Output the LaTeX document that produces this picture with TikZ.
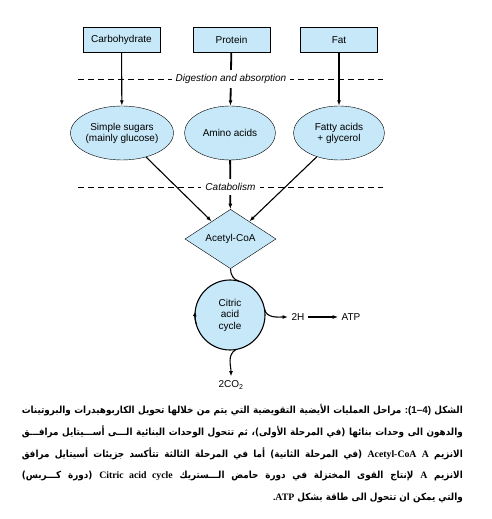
\documentclass[tikz,border=0pt]{standalone}
\usepackage{fontspec}
\setmainfont{Liberation Sans}
\newfontfamily\arabicfont[Script=Arabic,FakeStretch=0.9]{DejaVu Sans}
\newfontfamily\latinbold{Liberation Serif}
\TeXXeTstate=1
\usetikzlibrary{shapes.geometric,arrows.meta,positioning}
\definecolor{nodeblue}{RGB}{198,232,248}
\newcommand{\lat}[1]{\beginL{\latinbold\bfseries #1}\endL{}}
\newcommand{\figno}{\beginL{\rmfamily\bfseries :\kern0pt(\kern0pt1–4\kern0pt)}\endL{}}
\newlength\capmax
\newlength\capw

% caption lines
\newcommand{\capone}{\beginR الشكل \figno{} مراحل العمليات الأيضية التقويضية التي يتم من خلالها تحويل الكاربوهيدرات والبروتينات\endR}
\newcommand{\captwo}{\beginR والدهون الى وحدات بنائها (في المرحلة الأولى)، ثم تتحول الوحدات البنائية الـــى أســـيتايل مرافـــق\endR}
\newcommand{\capthree}{\beginR الانزيم \lat{A} \lat{Acetyl-CoA} (في المرحلة الثانية) أما في المرحلة الثالثة تتأكسد جزيئات أسيتايل مرافق\endR}
\newcommand{\capfour}{\beginR الانزيم \lat{A} لإنتاج القوى المختزلة في دورة حامض الـــستريك \lat{Citric acid cycle} (دورة كـــربس)\endR}
\newcommand{\capfive}{\beginR والتي يمكن ان تتحول الى طاقة بشكل \lat{.ATP}\endR}
\newcommand{\capbase}{\arabicfont\bfseries\fontsize{10}{12}\selectfont}

\begin{document}
% widest caption line sets the caption size
\setbox0=\hbox{\capbase\capone}\setlength{\capmax}{\wd0}
\setbox0=\hbox{\capbase\captwo}\setlength{\capw}{\wd0}
\ifdim\capw>\capmax \setlength{\capmax}{\capw}\fi
\setbox0=\hbox{\capbase\capthree}\setlength{\capw}{\wd0}
\ifdim\capw>\capmax \setlength{\capmax}{\capw}\fi
\setbox0=\hbox{\capbase\capfour}\setlength{\capw}{\wd0}
\ifdim\capw>\capmax \setlength{\capmax}{\capw}\fi
\ifdim\capmax<100pt \setlength{\capmax}{600pt}\fi
\pgfmathsetmacro\capsize{4370/\capmax}
\begin{tikzpicture}[
  x=1pt, y=1pt,
  every node/.style={font=\fontsize{10}{12}\selectfont},
  foodbox/.style={draw, fill=nodeblue, minimum width=77pt, minimum height=25pt, inner sep=0pt},
  unit/.style={ellipse, draw, fill=nodeblue, minimum width=91pt, minimum height=54pt, inner sep=0pt, align=center, font=\fontsize{10}{11}\selectfont},
  hub/.style={diamond, draw, fill=nodeblue, minimum width=91pt, minimum height=52pt, inner sep=0pt},
  wheel/.style={circle, draw, line width=1.1pt, fill=nodeblue, minimum size=70pt, inner sep=0pt, outer sep=0pt, align=center, font=\fontsize{10}{11.5}\selectfont},
  stage/.style={fill=white, inner sep=4pt, font=\itshape\fontsize{10}{12}\selectfont},
  flow/.style={-{Latex[length=5.5pt,width=4pt]}, line width=1.1pt},
  boldflow/.style={flow, line width=1.8pt},
  stageline/.style={dash pattern=on 6pt off 4pt, line width=0.7pt},
  capline/.style={anchor=east, inner sep=0pt, font=\arabicfont\bfseries\fontsize{\capsize}{12}\selectfont}
]
\useasboundingbox (0,0) rectangle (491,519);

% food groups
\node[foodbox] (carb) at (121.5,479) {Carbohydrate};
\node[foodbox] (prot) at (231.5,479) {Protein};
\node[foodbox] (fat) at (339,479) {Fat};

% building units
\node[unit] (sugar) at (122,386) {Simple sugars\\(mainly glucose)};
\node[unit] (amino) at (230,386) {Amino acids};
\node[unit] (fatty) at (339,386) {Fatty acids\\+ glycerol};

\node[hub] (acetyl) at (230.5,280) {Acetyl-CoA};
\node[wheel] (cycle) at (230,204) {Citric\\acid\\cycle};

\node (h2) at (298,202) {2H};
\node (atp) at (351,202) {ATP};
\node[inner sep=4pt] (co2) at (231,134) {2CO\textsubscript{2}};

% stage lines
\coordinate (dig west) at (78,440);
\coordinate (dig east) at (383,440);
\coordinate (cat west) at (78,332);
\coordinate (cat east) at (383,332);
\draw[stageline] (dig west) -- (dig east);
\draw[stageline] (cat west) -- (cat east);

\draw[flow] (carb) -- (sugar);
\draw[boldflow] (prot) -- (amino);
\draw[flow] (fat) -- (fatty);

\draw[flow] (sugar.-45) -- (acetyl.137);
\draw[boldflow] (amino) -- (acetyl);
\draw[flow] (fatty.-133) -- (acetyl.43);

\node[stage] (dig) at (231,440) {Digestion and absorption};
\node[stage] (cat) at (230.5,332) {Catabolism};

% cycle
\draw[line width=1.1pt] (acetyl.south) to[out=-90,in=165] (cycle.75);
\draw[-{Latex[length=5pt,width=4pt]}, line width=1.1pt] (cycle.195) arc[start angle=195, end angle=174, radius=35pt];
\draw[flow] (cycle.10) to[out=-80,in=180] (h2.west);
\draw[boldflow] (h2) -- (atp);
\draw[flow] (cycle.-80) to[out=-150,in=90] (co2.north);

% caption
\node[capline] (cap1) at (463,109) {\hbox to 441pt{\capone}};
\node[capline] (cap2) at (463,87) {\hbox to 441pt{\captwo}};
\node[capline] (cap3) at (463,65) {\hbox to 441pt{\capthree}};
\node[capline] (cap4) at (463,43) {\hbox to 441pt{\capfour}};
\node[capline] (cap5) at (463,21) {\capfive};
\end{tikzpicture}
\end{document}
